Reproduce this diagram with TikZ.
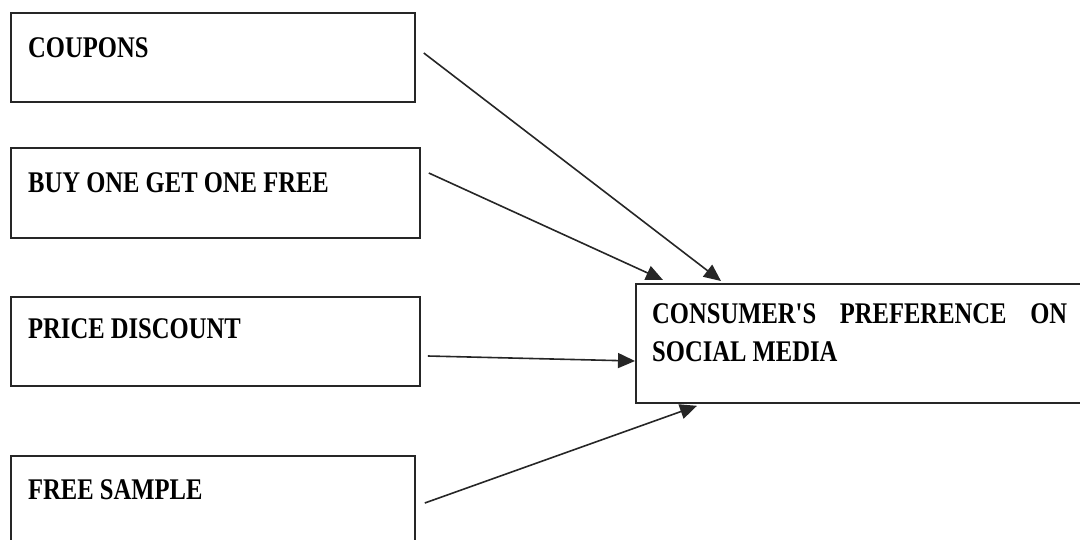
\documentclass[tikz,border=0pt]{standalone}
\usepackage{fontspec}
\newfontfamily\boxfont[FakeStretch=0.82]{Liberation Serif}
\usetikzlibrary{arrows.meta,calc}
\tikzset{
  box/.style={draw=black!85, line width=1.8pt, rectangle, inner sep=0pt, anchor=north west},
  lbl/.style={inner sep=0pt, anchor=base west, font=\boxfont\bfseries\fontsize{30}{38}\selectfont},
  conn/.style={draw=black!85, line width=1.6pt, -{Triangle[length=17pt,width=15pt]}}
}
\begin{document}
\begin{tikzpicture}[x=1pt,y=-1pt]
\useasboundingbox (0,0) rectangle (1080,539);
\clip (0,0) rectangle (1080,539);
% boxes
\node[box, minimum width=404pt, minimum height=89pt] (coupons) at (10,12) {};
\node[box, minimum width=409pt, minimum height=90pt] (bogo) at (10,147) {};
\node[box, minimum width=409pt, minimum height=89pt] (price) at (10,296) {};
\node[box, minimum width=404pt, minimum height=100pt] (sample) at (10,455) {};
\node[box, minimum width=460pt, minimum height=119pt] (target) at (635,283) {};
% labels
\node[lbl] (tcoupons) at ($(coupons.north west)+(18,45)$) {COUPONS};
\node[lbl] (tbogo) at ($(bogo.north west)+(18,45)$) {BUY ONE GET ONE FREE};
\node[lbl] (tprice) at ($(price.north west)+(18,42)$) {PRICE DISCOUNT};
\node[lbl] (tsample) at ($(sample.north west)+(18,44)$) {FREE SAMPLE};
\node[lbl] (ttarget) at ($(target.north west)+(17,40)$) {\makebox[415pt][s]{CONSUMER'S\hfill PREFERENCE\hfill ON}};
\node[lbl] (ttarget2) at ($(target.north west)+(17,78)$) {SOCIAL MEDIA};
% connector anchors
\coordinate (s1) at ($(coupons.north east)+(8,41)$);
\coordinate (s2) at ($(bogo.north east)+(8,26)$);
\coordinate (s3) at ($(price.north east)+(7,60)$);
\coordinate (s4) at ($(sample.north east)+(9,48)$);
\coordinate (e1) at ($(target.north west)+(86,-2)$);
\coordinate (e2) at ($(target.north west)+(28,-3)$);
\coordinate (e3) at ($(target.north west)+(0,78)$);
\coordinate (e4) at ($(target.south west)+(62,2)$);
\draw[conn] (s1) -- (e1);
\draw[conn] (s2) -- (e2);
\draw[conn] (s3) -- (e3);
\draw[conn] (s4) -- (e4);
\end{tikzpicture}
\end{document}
